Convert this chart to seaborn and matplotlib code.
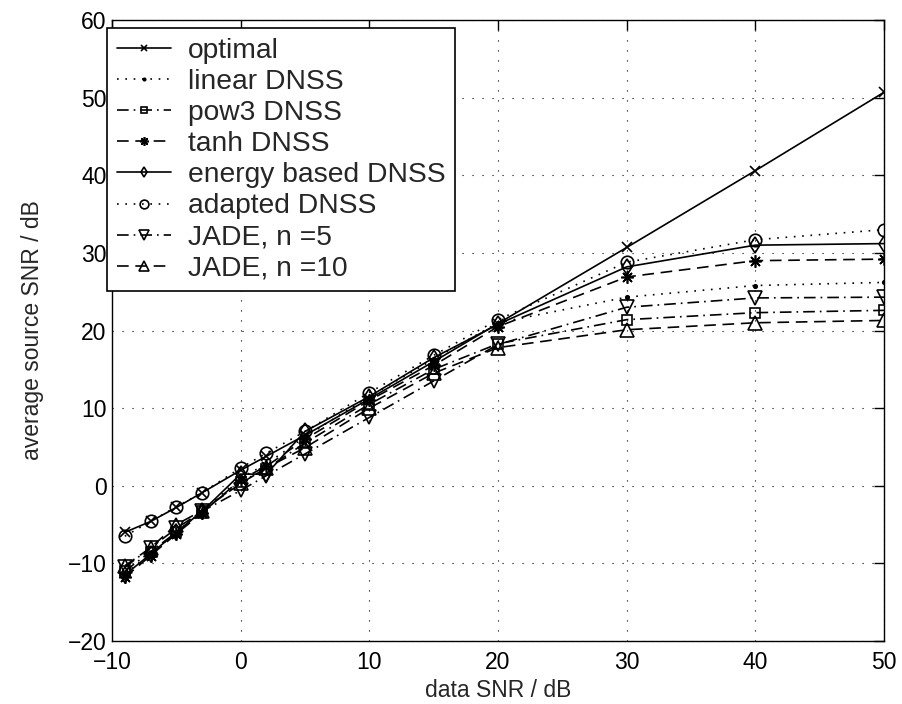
import numpy as np
import pandas as pd
import matplotlib
matplotlib.use('Agg')
import matplotlib.pyplot as plt
import seaborn as sns

sns.set_style('white')
plt.rcParams['font.family'] = ['Liberation Sans', 'DejaVu Sans']

data_snr = [-9, -7, -5, -3, 0, 2, 5, 10, 15, 20, 30, 40, 50]

optimal = [-6.0, -4.6, -2.8, -0.9, 2.0, 3.8, 6.5, 11.2, 16.0, 20.9, 30.7, 40.6, 50.7]
linear_dnss = [-11.3, -8.8, -6.0, -3.3, 1.0, 2.8, 6.3, 11.5, 16.3, 21.0, 24.3, 25.8, 26.2]
pow3_dnss = [-11.0, -8.5, -6.0, -3.3, 0.5, 2.2, 5.5, 10.5, 15.0, 18.3, 21.4, 22.3, 22.6]
tanh_dnss = [-11.8, -9.0, -6.2, -3.5, 0.8, 2.5, 6.0, 11.0, 15.5, 20.5, 26.9, 29.0, 29.2]
energy_dnss = [-11.5, -8.8, -6.0, -3.3, 1.5, 1.5, 7.0, 11.5, 16.5, 20.8, 28.2, 31.0, 31.2]
adapted_dnss = [-6.5, -4.6, -2.7, -0.9, 2.3, 4.2, 7.0, 12.0, 16.8, 21.4, 28.8, 31.7, 33.0]
jade_5 = [-10.5, -8.0, -5.5, -3.3, -0.6, 1.3, 4.1, 8.8, 13.5, 18.2, 23.0, 24.2, 24.3]
jade_10 = [-10.3, -8.0, -5.0, -3.2, 0.3, 2.3, 4.9, 10.0, 14.5, 17.8, 20.1, 21.0, 21.3]

labels = ['optimal', 'linear DNSS', 'pow3 DNSS', 'tanh DNSS',
          'energy based DNSS', 'adapted DNSS', 'JADE, n =5', 'JADE, n =10']
series = [optimal, linear_dnss, pow3_dnss, tanh_dnss,
          energy_dnss, adapted_dnss, jade_5, jade_10]

# matlab-ish line styles
solid = '-'
dotted = (0, (1, 4))
dashdot = (0, (7, 3, 1, 3))
dashed = (0, (7, 4))
asterisk = (8, 2, 0)

# (linestyle, marker, markersize, filled)
styles = [
    (solid, 'x', 7, False),
    (dotted, '.', 5, True),
    (dashdot, 's', 7, False),
    (dashed, asterisk, 9, False),
    (solid, 'd', 8, False),
    (dotted, 'o', 9, False),
    (dashdot, 'v', 9.5, False),
    (dashed, '^', 9.5, False),
]

fig = plt.figure(figsize=(9.03, 7.04), dpi=100)
ax = fig.add_axes([0.124, 0.0895, 0.855, 0.882])

for label, values, (ls, marker, ms, filled) in zip(labels, series, styles):
    df = pd.DataFrame({'x': data_snr, 'y': values})
    sns.lineplot(data=df, x='x', y='y', ax=ax, color='black', linestyle=ls,
                 linewidth=1.2, marker=marker, markersize=ms,
                 markerfacecolor='black' if filled else 'none',
                 markeredgecolor='black', markeredgewidth=1.2, label=label)

ax.set_xlim(-10, 50)
ax.set_ylim(-20, 60)
ax.set_xticks(np.arange(-10, 51, 10))
ax.set_yticks(np.arange(-20, 61, 10))
ax.set_xticklabels(['\u221210', '0', '10', '20', '30', '40', '50'])
ax.set_yticklabels(['\u221220', '\u221210', '0', '10', '20', '30', '40', '50', '60'])
ax.grid(True, color='black', linestyle=(0, (1, 8)), linewidth=0.8)
ax.tick_params(direction='in', length=7, width=1, labelsize=16.5,
               top=True, right=True, colors='black')
ax.tick_params(axis='x', pad=7)
ax.tick_params(axis='y', pad=4)
for sp in ax.spines.values():
    sp.set_color('black')
    sp.set_linewidth(1)

ax.set_xlabel('data SNR / dB', fontsize=16.5)
ax.set_ylabel('average source SNR / dB', fontsize=16.5)
ax.xaxis.set_label_coords(0.5, -0.062)
ax.yaxis.set_label_coords(-0.088, 0.5)

leg = ax.legend(loc='upper left', bbox_to_anchor=(-0.006, 0.987),
                borderaxespad=0, fontsize=20.3, frameon=True, fancybox=False,
                edgecolor='black', framealpha=1, handlelength=1.9,
                handletextpad=0.6, labelspacing=0.18, borderpad=0.35,
                markerscale=0.7)
leg.get_frame().set_linewidth(1.2)

fig.savefig('out.png', dpi=100, facecolor='white')
